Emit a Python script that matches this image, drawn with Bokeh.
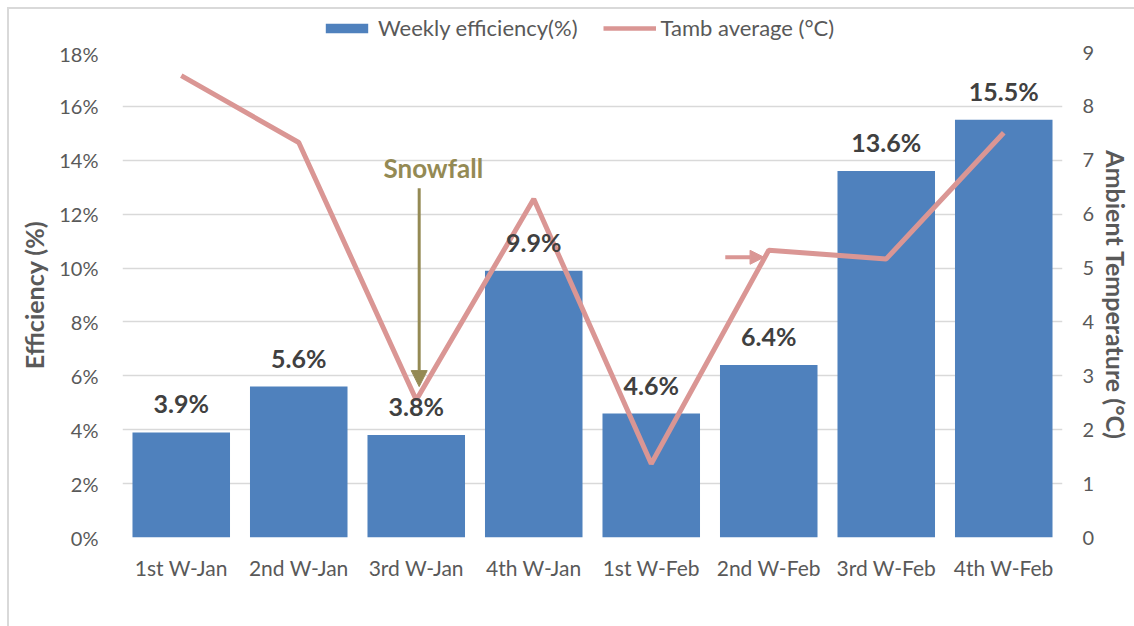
from bokeh.plotting import figure
from bokeh.layouts import column
from bokeh.models import (ColumnDataSource, Range1d, LinearAxis, FixedTicker,
                          PrintfTickFormatter, Legend, LegendItem, LabelSet,
                          Label, Arrow, NormalHead)
from bokeh.core.properties import value
from bokeh.embed import file_html
from bokeh.resources import INLINE

weeks = ["1st W-Jan", "2nd W-Jan", "3rd W-Jan", "4th W-Jan",
         "1st W-Feb", "2nd W-Feb", "3rd W-Feb", "4th W-Feb"]
efficiency = [3.9, 5.6, 3.8, 9.9, 4.6, 6.4, 13.6, 15.5]
tamb = [8.57, 7.33, 2.55, 6.28, 1.37, 5.33, 5.17, 7.51]
eff_labels = [f"{v:.1f}%" for v in efficiency]
eff_ticks = [0, 2, 4, 6, 8, 10, 12, 14, 16, 18]
temp_ticks = [0, 1, 2, 3, 4, 5, 6, 7, 8, 9]

FONT = "Lato"
GREY = "#595959"
BAR = "#4F81BD"
LINE = "#DA9694"
OLIVE = "#948A54"

src = ColumnDataSource(dict(week=weeks, eff=efficiency, temp=tamb, lab=eff_labels))

# ---- legend strip (top); its series sit outside its view, only the legend shows ----
top = figure(width=1125, height=32, x_range=weeks, y_range=Range1d(100, 101),
             output_backend="svg", toolbar_location=None,
             x_axis_location=None, y_axis_location=None,
             min_border_left=113, min_border_right=71, min_border_top=0,
             min_border_bottom=0)
top.grid.visible = False
top.outline_line_color = None
leg_bar = top.vbar(x="week", top="eff", width=0.83, source=src,
                   fill_color=BAR, line_color=None)
leg_line = top.line(x="week", y="temp", source=src, line_color=LINE, line_width=4.5)
legend = Legend(items=[LegendItem(label="Weekly efficiency(%)", renderers=[leg_bar]),
                       LegendItem(label="Tamb average (°C)", renderers=[leg_line])],
                orientation="horizontal", location=(198, 0),
                glyph_width=53, glyph_height=12, label_height=20,
                label_text_font=FONT, label_text_font_size="22px",
                label_text_color=GREY, label_standoff=5, spacing=25,
                padding=0, margin=0, border_line_color=None,
                background_fill_alpha=0)
top.add_layout(legend, "center")

# ---- main chart ----
p = figure(x_range=weeks, y_range=Range1d(0, 18), width=1125, height=585,
           output_backend="svg", toolbar_location=None,
           min_border_left=113, min_border_right=71, min_border_top=11,
           min_border_bottom=89)
p.extra_y_ranges = {"temp": Range1d(0, 9)}
p.outline_line_color = None

bars = p.vbar(x="week", top="eff", width=0.83, source=src, fill_color=BAR,
              line_color=None)
line = p.line(x="week", y="temp", source=src, y_range_name="temp",
              line_color=LINE, line_width=5)

p.xgrid.grid_line_color = None
p.ygrid.grid_line_color = "#D9D9D9"
p.ygrid.grid_line_width = 1.3

ax_l = p.yaxis[0]
ax_l.ticker = FixedTicker(ticks=eff_ticks)
ax_l.formatter = PrintfTickFormatter(format="%d%%")
ax_l.axis_label = "Efficiency (%)"

ax_r = LinearAxis(y_range_name="temp", ticker=FixedTicker(ticks=temp_ticks),
                  axis_label="Ambient Temperature (°C)")
p.add_layout(ax_r, "right")

for ax in (ax_l, ax_r, p.xaxis[0]):
    ax.axis_line_color = None
    ax.major_tick_line_color = None
    ax.minor_tick_line_color = None
    ax.major_tick_out = 0
    ax.major_tick_in = 0
    ax.major_label_text_font = FONT
    ax.major_label_text_font_size = "20px"
    ax.major_label_text_color = GREY
    ax.axis_label_text_font = FONT
    ax.axis_label_text_font_size = "25px"
    ax.axis_label_text_font_style = "bold"
    ax.axis_label_text_color = GREY

p.xaxis[0].major_label_text_font_size = "21px"
ax_l.major_label_standoff = 24
ax_l.axis_label_standoff = 7
ax_r.major_label_standoff = 20
ax_r.axis_label_standoff = 4
p.xaxis[0].major_label_standoff = 17

labels = LabelSet(x="week", y="eff", text="lab", source=src, y_offset=14,
                  text_align="center", text_baseline="bottom",
                  text_font=value(FONT), text_font_size="25px",
                  text_font_style="bold", text_color="#404040")
p.add_layout(labels)

p.add_layout(Label(x=2.645, y=6.85, y_range_name="temp", text="Snowfall",
                   text_align="center", text_baseline="middle",
                   text_font=FONT, text_font_size="26px",
                   text_font_style="bold", text_color=OLIVE))
p.add_layout(Arrow(x_start=2.525, y_start=6.48, x_end=2.525, y_end=2.8,
                   y_range_name="temp", line_color=OLIVE, line_width=3,
                   end=NormalHead(size=16, fill_color=OLIVE, line_color=OLIVE)))
p.add_layout(Arrow(x_start=5.13, y_start=5.2, x_end=5.46, y_end=5.2,
                   y_range_name="temp", line_color=LINE, line_width=4,
                   end=NormalHead(size=14, fill_color=LINE, line_color=LINE)))

layout = column(top, p, spacing=0,
                styles={"margin-left": "7px", "margin-top": "7px",
                        "border-left": "2px solid #D9D9D9",
                        "border-top": "2px solid #D9D9D9"})
open("out.html", "w").write(file_html(layout, INLINE))
